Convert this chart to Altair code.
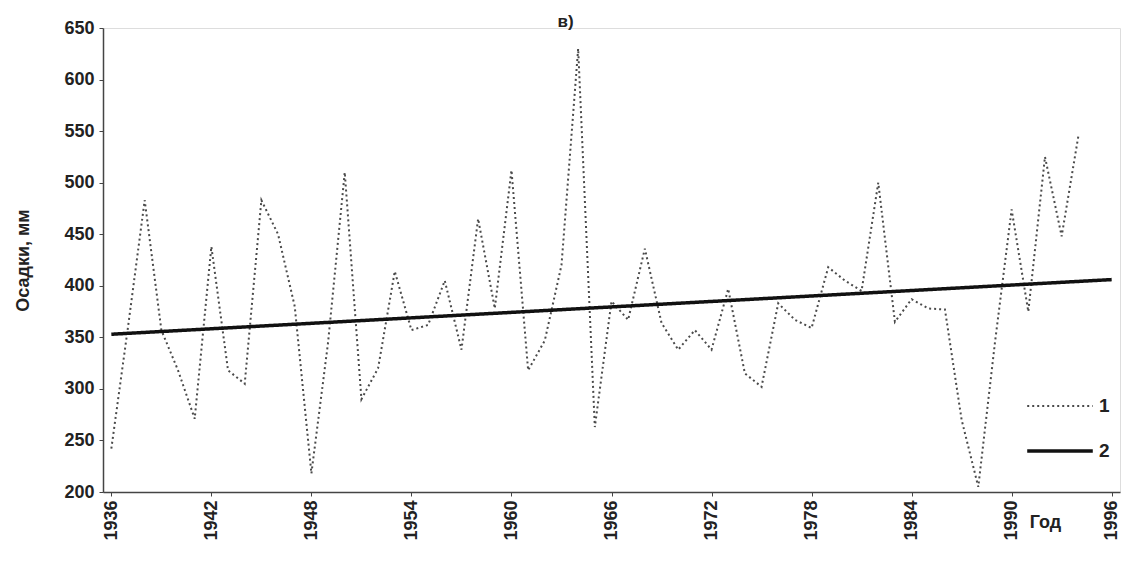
import altair as alt
import pandas as pd

years = list(range(1936, 1995))
precip = [242, 360, 483, 357, 318, 271, 438, 318, 305, 483,
          450, 380, 218, 345, 510, 290, 320, 414, 357, 362,
          405, 338, 465, 378, 512, 318, 347, 420, 630, 263,
          385, 367, 436, 364, 338, 357, 338, 397, 315, 302,
          383, 367, 359, 418, 405, 395, 500, 365, 387, 378,
          377, 270, 205, 345, 474, 375, 525, 448, 545]
trend_years = [1936, 1996]
trend_vals = [353, 406]
series_names = ["1", "2"]
x_labels = list(range(1936, 1997, 6))
y_ticks = list(range(200, 651, 50))

df = pd.DataFrame(
    {"year": years + trend_years,
     "value": precip + trend_vals,
     "series": [series_names[0]] * len(years) + [series_names[1]] * len(trend_years)}
)

FONT = "Liberation Sans"

chart = alt.Chart(df).mark_line(strokeCap="butt").encode(
    x=alt.X("year:Q",
            scale=alt.Scale(domain=[1935.5, 1996.5], nice=False, zero=False),
            axis=alt.Axis(values=x_labels, format="d", labelAngle=-90,
                          labelFontSize=18, labelFontWeight="bold", labelFont=FONT,
                          labelColor="#222", tickSize=4, tickColor="#444",
                          domainColor="#444", domainWidth=1.5, grid=False,
                          labelPadding=4,
                          title="Год", titleAngle=0, titleFont=FONT,
                          titleFontSize=18, titleFontWeight="bold", titleColor="#222",
                          titleX=942, titleY=30, titleAlign="center",
                          titleBaseline="middle")),
    y=alt.Y("value:Q",
            scale=alt.Scale(domain=[200, 650], nice=False, zero=False),
            axis=alt.Axis(values=y_ticks, labelFontSize=18, labelFontWeight="bold",
                          labelFont=FONT, labelColor="#222", tickSize=4,
                          tickColor="#444", domainColor="#444", domainWidth=1.5,
                          grid=False, labelPadding=5,
                          title="Осадки, мм", titleFont=FONT, titleFontSize=18,
                          titleFontWeight="bold", titleColor="#222",
                          titlePadding=31)),
    color=alt.Color("series:N",
                    scale=alt.Scale(domain=series_names, range=["#4a4a4a", "#111111"]),
                    legend=alt.Legend(orient="none", legendX=922, legendY=344,
                                      title=None, symbolType="stroke",
                                      symbolSize=4300, labelFontSize=19,
                                      labelFontWeight="bold", labelFont=FONT,
                                      labelColor="#222", labelOffset=4,
                                      rowPadding=0)),
    strokeDash=alt.StrokeDash("series:N",
                              scale=alt.Scale(domain=series_names,
                                              range=[[2, 3], [1, 0]])),
    strokeWidth=alt.StrokeWidth("series:N",
                                scale=alt.Scale(domain=series_names, range=[2, 3.5])),
).properties(
    width=1017, height=464,
    title=alt.TitleParams("в)", fontSize=17, fontWeight="bold", font=FONT,
                          color="#222", anchor="middle", dx=-46, offset=-12),
    autosize=alt.AutoSizeParams(type="none"),
    padding={"left": 95, "top": 20, "right": 15, "bottom": 70},
).configure_view(stroke=None).configure(background="white")

chart.save("out.html", embed_options={"renderer": "svg", "actions": False})
